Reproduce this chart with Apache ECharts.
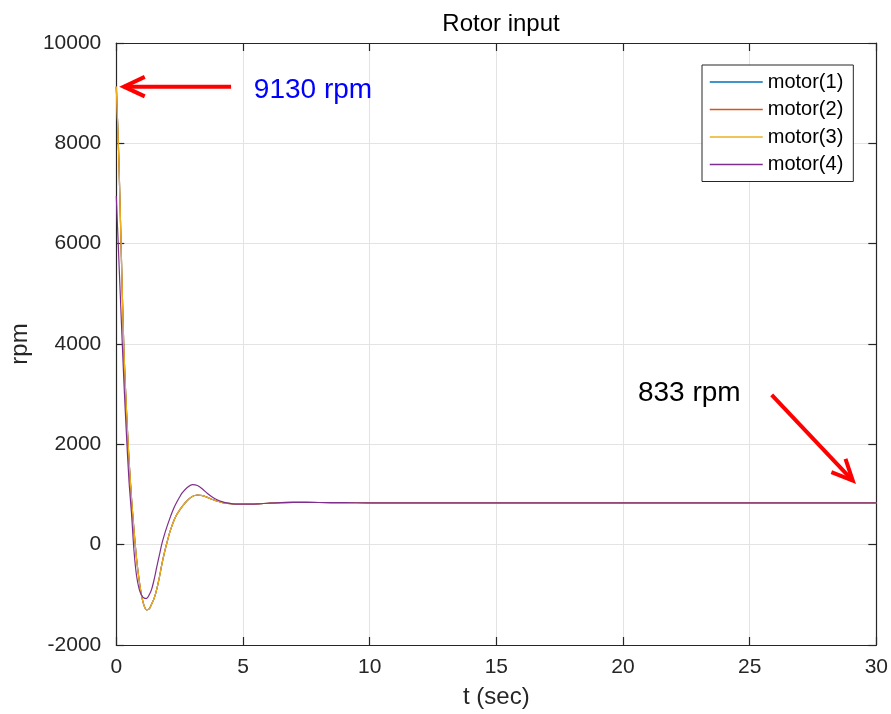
<!DOCTYPE html>
<html>
<head>
<meta charset="utf-8">
<title>Rotor input</title>
<script src="https://cdn.jsdelivr.net/npm/echarts@6/dist/echarts.min.js"></script>
<style>
  html, body { margin: 0; padding: 0; background: #ffffff; }
  #chart { width: 891px; height: 714px; }
</style>
</head>
<body>
<div id="chart"></div>
<script>
// Time axis samples (s)
const tSec = [
  0, 0.1, 0.2, 0.3, 0.4, 0.5, 0.6, 0.7, 0.8, 0.9,
  1.0, 1.1, 1.2, 1.3, 1.4, 1.5, 1.6, 1.7, 1.8, 1.9,
  2.0, 2.1, 2.2, 2.3, 2.4, 2.5, 2.6, 2.8, 3.0, 3.2,
  3.4, 3.6, 3.8, 4.0, 4.2, 4.4, 4.6, 4.8, 5.2, 5.6,
  6.0, 6.5, 7, 8, 9, 10, 12, 15, 20, 25, 30
];

// Rotor speed commands (rpm)
const motor1 = [
  9130, 7700, 5750, 3880, 2700, 1710, 930, 280, -280, -700,
  -1020, -1220, -1298, -1280, -1180, -1060, -880, -650, -390, -160,
  40, 230, 380, 510, 610, 690, 760, 880, 960, 990,
  978, 942, 900, 865, 838, 822, 813, 809, 807, 814,
  826, 838, 843, 841, 837, 834, 833, 833, 833, 833, 833
];
const motor2 = [
  9130, 7700, 5750, 3880, 2700, 1710, 930, 280, -280, -700,
  -1020, -1220, -1298, -1280, -1180, -1060, -880, -650, -390, -160,
  40, 230, 380, 510, 610, 690, 760, 880, 960, 990,
  978, 942, 900, 865, 838, 822, 813, 809, 807, 814,
  826, 838, 843, 841, 837, 834, 833, 833, 833, 833, 833
];
const motor3 = [
  9130, 7700, 5750, 3880, 2700, 1710, 930, 280, -280, -700,
  -1020, -1220, -1298, -1280, -1180, -1060, -880, -650, -390, -160,
  40, 230, 380, 510, 610, 690, 760, 880, 960, 990,
  978, 942, 900, 865, 838, 822, 813, 809, 807, 814,
  826, 838, 843, 841, 837, 834, 833, 833, 833, 833, 833
];
const motor4 = [
  6950, 5700, 4450, 3250, 2200, 1280, 620, -130, -620, -880,
  -1010, -1065, -1070, -1000, -880, -680, -440, -210, 20, 200,
  360, 505, 640, 760, 860, 950, 1030, 1140, 1195, 1180,
  1110, 1020, 945, 890, 852, 828, 815, 810, 807, 814,
  826, 838, 843, 841, 837, 834, 833, 833, 833, 833, 833
];

const seriesNames = ['motor(1)', 'motor(2)', 'motor(3)', 'motor(4)'];
const seriesColors = ['#0072BD', '#D95319', '#EDB120', '#7E2F8E'];

// Tick labels
const xTickLabels = [0, 5, 10, 15, 20, 25, 30];
const yTickLabels = [-2000, 0, 2000, 4000, 6000, 8000, 10000];

// Annotated values
const peakRpm = 9130;
const steadyRpm = 833;

const FONT = '"Liberation Sans", Arial, Helvetica, sans-serif';
const AXIS_COLOR = '#262626';
const GRID_COLOR = '#e3e3e3';

const xMin = xTickLabels[0], xMax = xTickLabels[xTickLabels.length - 1];
const xStep = xTickLabels[1] - xTickLabels[0];
const yMin = yTickLabels[0], yMax = yTickLabels[yTickLabels.length - 1];
const yStep = yTickLabels[1] - yTickLabels[0];

function pairs(values) {
  return tSec.map((t, i) => [t, values[i]]);
}

function frameAxis(kind, position, isMain) {
  const isX = kind === 'x';
  const ax = {
    type: 'value',
    position: position,
    min: isX ? xMin : yMin,
    max: isX ? xMax : yMax,
    interval: isX ? xStep : yStep,
    axisLine: { show: true, onZero: false, lineStyle: { color: AXIS_COLOR, width: 1.2 } },
    axisTick: { show: true, inside: true, length: 8, lineStyle: { color: AXIS_COLOR, width: 1.2 } },
    axisLabel: {
      show: isMain,
      color: AXIS_COLOR,
      fontFamily: FONT,
      fontSize: 21,
      margin: isX ? 12 : 15,
      formatter: v => String(v)
    },
    splitLine: { show: isMain, lineStyle: { color: GRID_COLOR, width: 1 } }
  };
  if (isMain) {
    ax.nameLocation = 'middle';
    ax.nameTextStyle = { color: AXIS_COLOR, fontFamily: FONT, fontSize: 24 };
    if (isX) {
      ax.name = 't (sec)';
      ax.nameGap = 40;
    } else {
      ax.name = 'rpm';
      ax.nameGap = 80;
      ax.nameRotate = 90;
    }
  }
  return ax;
}

const chart = echarts.init(document.getElementById('chart'), null, { renderer: 'canvas' });

const motorData = [motor1, motor2, motor3, motor4];

chart.setOption({
  animation: false,
  backgroundColor: '#ffffff',
  title: {
    text: 'Rotor input',
    left: 496,
    top: 7,
    textAlign: 'center',
    textStyle: { color: '#000000', fontFamily: FONT, fontSize: 24, fontWeight: 'normal' }
  },
  grid: { left: 115, right: 14, top: 43, bottom: 69, containLabel: false },
  xAxis: [frameAxis('x', 'bottom', true), frameAxis('x', 'top', false)],
  yAxis: [frameAxis('y', 'left', true), frameAxis('y', 'right', false)],
  legend: {
    orient: 'vertical',
    left: 702,
    top: 65,
    backgroundColor: '#ffffff',
    borderColor: AXIS_COLOR,
    borderWidth: 1,
    borderRadius: 0,
    padding: [7, 10, 7, 7],
    itemWidth: 53,
    itemHeight: 20,
    itemGap: 7.5,
    itemStyle: { opacity: 0 },
    lineStyle: { width: 1.5 },
    textStyle: { color: '#000000', fontFamily: FONT, fontSize: 20 },
    data: seriesNames
  },
  series: seriesNames.map((name, i) => ({
    name: name,
    type: 'line',
    xAxisIndex: 0,
    yAxisIndex: 0,
    data: pairs(motorData[i]),
    symbol: 'none',
    smooth: 0.3,
    color: seriesColors[i],
    lineStyle: { color: seriesColors[i], width: 1.2 },
    emphasis: { disabled: true },
    z: 2 + i
  }))
});

// Annotation arrows and captions, placed in data coordinates
const arrows = [
  { from: [4.53, peakRpm], to: [0.3, peakRpm] },
  { from: [25.87, 2984], to: [29.07, 1276] }
];
const captions = [
  { at: [5.43, 9063], text: peakRpm + ' rpm', color: '#0000ff' },
  { at: [20.59, 3024], text: steadyRpm + ' rpm', color: '#000000' }
];

function toPx(p) {
  return chart.convertToPixel({ xAxisIndex: 0, yAxisIndex: 0 }, p);
}

const graphics = [];
const HEAD_LEN = 23;
const HEAD_ANGLE = 25 * Math.PI / 180;
arrows.forEach(a => {
  const s = toPx(a.from);
  const e = toPx(a.to);
  const dx = s[0] - e[0], dy = s[1] - e[1];
  const len = Math.hypot(dx, dy);
  const bx = dx / len, by = dy / len;
  const arm = sign => {
    const c = Math.cos(sign * HEAD_ANGLE), sn = Math.sin(sign * HEAD_ANGLE);
    return [e[0] + HEAD_LEN * (bx * c - by * sn), e[1] + HEAD_LEN * (bx * sn + by * c)];
  };
  graphics.push({
    type: 'polyline',
    shape: { points: [s, e] },
    style: { stroke: '#ff0000', lineWidth: 4, fill: null },
    z: 100
  });
  graphics.push({
    type: 'polyline',
    shape: { points: [arm(1), e, arm(-1)] },
    style: { stroke: '#ff0000', lineWidth: 4, fill: null, lineJoin: 'miter' },
    z: 100
  });
});
captions.forEach(c => {
  const p = toPx(c.at);
  graphics.push({
    type: 'text',
    x: p[0],
    y: p[1],
    style: {
      text: c.text,
      fill: c.color,
      font: '28px ' + FONT,
      textAlign: 'left',
      textVerticalAlign: 'middle'
    },
    z: 100
  });
});

chart.setOption({ graphic: graphics });
</script>
</body>
</html>
